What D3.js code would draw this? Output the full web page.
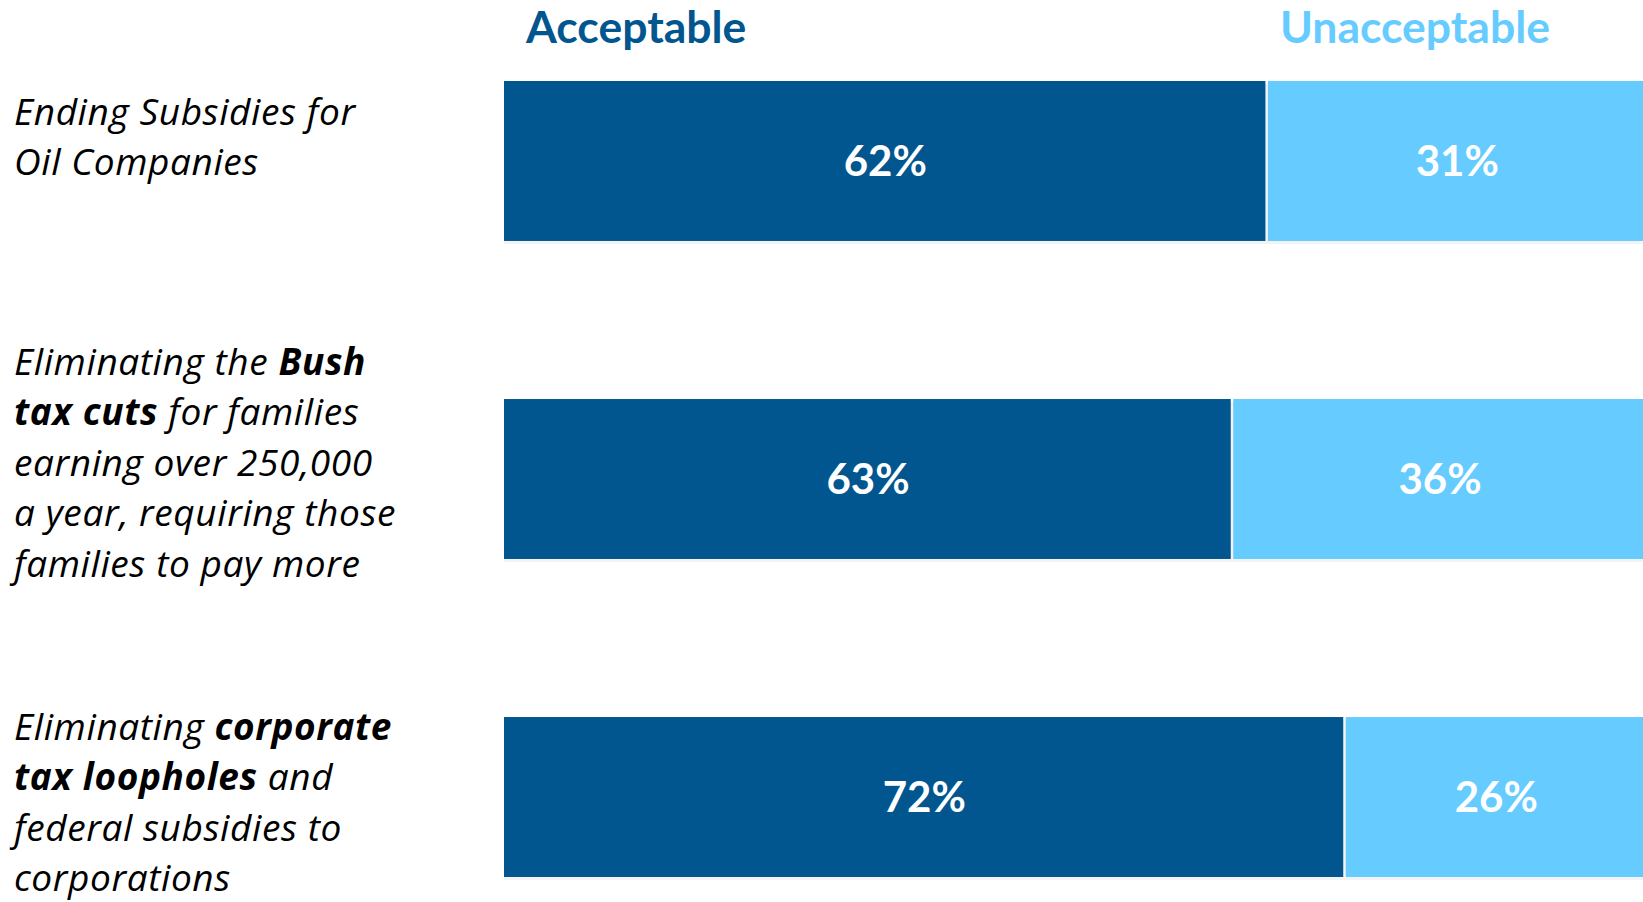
<!DOCTYPE html>
<html>
<head>
<meta charset="utf-8">
<script src="https://cdn.jsdelivr.net/npm/d3@7"></script>
<style>
  html, body { margin: 0; padding: 0; background: #ffffff; }
  svg { display: block; }
  text { font-family: Lato, "Open Sans", "Noto Sans", sans-serif; }
  text.cat { font-family: "Open Sans", Lato, "Noto Sans", sans-serif; letter-spacing: 0.6px; }
</style>
</head>
<body>
<svg id="chart" width="1643" height="902"></svg>
<script>
// Survey items; "|" breaks a line, **...** marks bold words
const categories = [
  "Ending Subsidies for|Oil Companies",
  "Eliminating the **Bush**|**tax cuts** for families|earning over 250,000|a year, requiring those|families to pay more",
  "Eliminating **corporate**|**tax loopholes** and|federal subsidies to|corporations"
];
const acceptable   = [62, 63, 72];
const unacceptable = [31, 36, 26];
const seriesNames  = ["Acceptable", "Unacceptable"];

// Layout
const W = 1643, H = 902;
const barLeft = 504, barRight = 1648;
const barTop = 81, barBottom = 877;
const labelX = 14;
const labelFirstBaseline = [125, 375, 740];
const lineHeight = 50.4;
const colors = { Acceptable: "#02568F", Unacceptable: "#66CCFF" };

const svg = d3.select("#chart");

const rows = categories.map((c, i) => ({
  label: c, acc: acceptable[i], unacc: unacceptable[i], i
}));

const y = d3.scaleBand()
  .domain(rows.map(d => d.i))
  .range([barTop, barBottom])
  .paddingInner(0.497)
  .paddingOuter(0);

// each bar is normalised to the sum of its two shares
const xFor = d => d3.scaleLinear().domain([0, d.acc + d.unacc]).range([barLeft, barRight]);

// headers
const headerX = { Acceptable: 526, Unacceptable: 1280 };
svg.selectAll("text.header")
  .data(seriesNames)
  .join("text")
  .attr("class", "header")
  .attr("x", d => headerX[d])
  .attr("y", 43)
  .attr("font-size", 44.5)
  .attr("font-weight", 700)
  .attr("fill", d => colors[d])
  .text(d => d);

const g = svg.selectAll("g.row")
  .data(rows)
  .join("g")
  .attr("class", "row");

// faint drop shadow beneath each bar
g.append("rect")
  .attr("x", barLeft)
  .attr("y", d => y(d.i) + 3)
  .attr("width", barRight - barLeft)
  .attr("height", y.bandwidth())
  .attr("fill", "#f3f3f3");

const gap = 1.25;
g.append("rect")
  .attr("x", d => xFor(d)(0))
  .attr("y", d => y(d.i))
  .attr("width", d => xFor(d)(d.acc) - xFor(d)(0) - gap)
  .attr("height", y.bandwidth())
  .attr("fill", colors.Acceptable);

g.append("rect")
  .attr("x", d => xFor(d)(d.acc) + gap)
  .attr("y", d => y(d.i))
  .attr("width", d => xFor(d)(d.acc + d.unacc) - xFor(d)(d.acc) - gap)
  .attr("height", y.bandwidth())
  .attr("fill", colors.Unacceptable);

// value labels
g.append("text")
  .attr("x", d => (xFor(d)(0) + xFor(d)(d.acc)) / 2)
  .attr("y", d => y(d.i) + y.bandwidth() / 2 + 15)
  .attr("text-anchor", "middle")
  .attr("font-size", 42)
  .attr("font-weight", 700)
  .attr("fill", "#ffffff")
  .text(d => d.acc + "%");

g.append("text")
  .attr("x", d => (xFor(d)(d.acc) + xFor(d)(d.acc + d.unacc)) / 2)
  .attr("y", d => y(d.i) + y.bandwidth() / 2 + 15)
  .attr("text-anchor", "middle")
  .attr("font-size", 42)
  .attr("font-weight", 700)
  .attr("fill", "#ffffff")
  .text(d => d.unacc + "%");

// category labels with bold runs
function parseLine(line) {
  return line.split(/(\*\*[^*]+\*\*)/).filter(s => s.length).map(s =>
    s.startsWith("**") ? { t: s.slice(2, -2), b: true } : { t: s, b: false });
}

g.each(function(d) {
  const lines = d.label.split("|");
  const t = d3.select(this).append("text")
    .attr("class", "cat")
    .attr("font-size", 37)
    .attr("font-style", "italic")
    .attr("fill", "#000000");
  lines.forEach((line, li) => {
    const row = t.append("tspan")
      .attr("x", labelX)
      .attr("y", labelFirstBaseline[d.i] + li * lineHeight);
    parseLine(line).forEach(seg => {
      row.append("tspan")
        .attr("font-weight", seg.b ? 700 : 400)
        .text(seg.t);
    });
  });
});
</script>
</body>
</html>
